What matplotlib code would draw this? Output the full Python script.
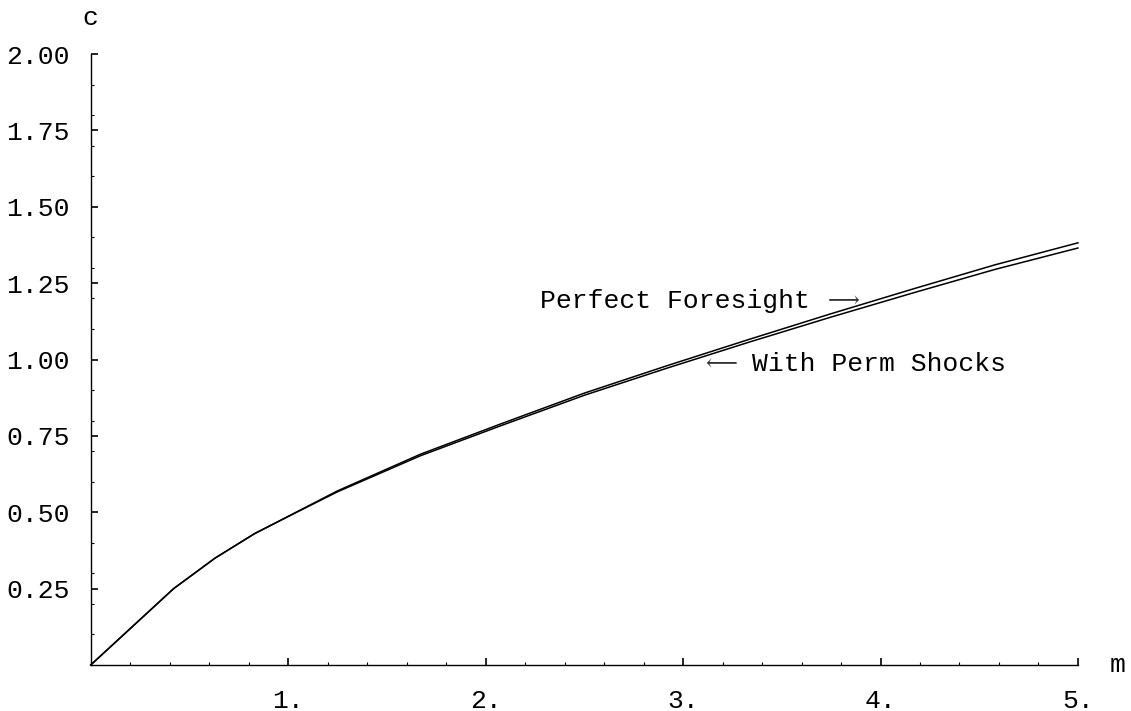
import matplotlib
matplotlib.use("Agg")
import matplotlib.pyplot as plt
import numpy as np

# consumption function points
m_vals = [0.0, 0.42, 0.63, 0.83, 1.04, 1.25, 1.67, 2.08, 2.50, 2.92, 3.33, 3.75, 4.17, 4.58, 5.00]
c_perfect = [0.0, 0.25, 0.35, 0.43, 0.50, 0.57, 0.69, 0.79, 0.89, 0.98, 1.065, 1.15, 1.232, 1.31, 1.382]
c_perm = [0.0, 0.25, 0.35, 0.43, 0.499, 0.567, 0.685, 0.784, 0.883, 0.972, 1.056, 1.139, 1.219, 1.295, 1.365]

x_ticks = [1, 2, 3, 4, 5]
x_labels = ["1.", "2.", "3.", "4.", "5."]
y_ticks = [0.25, 0.5, 0.75, 1.0, 1.25, 1.5, 1.75, 2.0]
y_labels = ["0.25", "0.50", "0.75", "1.00", "1.25", "1.50", "1.75", "2.00"]

mono = ["Liberation Mono", "DejaVu Sans Mono", "DejaVu Sans"]
fs = 19

fig = plt.figure(figsize=(11.31, 7.11), dpi=100)
ax = fig.add_axes([0.0802, 0.0647, 0.9531 - 0.0802, 0.924 - 0.0647])

ax.plot(m_vals, c_perfect, color="black", lw=1.1, clip_on=False)
ax.plot(m_vals, c_perm, color="black", lw=1.1, clip_on=False)

ax.set_xlim(0, 5)
ax.set_ylim(0, 2)
for s in ["top", "right"]:
    ax.spines[s].set_visible(False)
for s in ["left", "bottom"]:
    ax.spines[s].set_linewidth(1.0)

ax.set_xticks(x_ticks)
ax.set_xticklabels(x_labels, family=mono, fontsize=fs)
ax.set_yticks(y_ticks)
ax.set_yticklabels(y_labels, family=mono, fontsize=fs)
ax.set_xticks(np.arange(0.2, 5.0, 0.2), minor=True)
ax.set_yticks(np.arange(0.1, 2.0, 0.1), minor=True)
ax.tick_params(which="major", direction="in", length=5, width=1.2)
ax.tick_params(axis="x", which="major", pad=17)
ax.tick_params(axis="y", which="major", pad=15)
ax.tick_params(which="minor", direction="in", length=2.5, width=0.8)

ax.text(0.0, 2.08, "c", family=mono, fontsize=fs, ha="center", va="bottom")
ax.text(5.2, 0.0, "m", family=mono, fontsize=fs, ha="center", va="center")

arrow_font = ["DejaVu Serif", "DejaVu Sans"]
ax.text(2.275, 1.19, "Perfect Foresight", family=mono, fontsize=fs,
        ha="left", va="center")
ax.text(3.733, 1.19, "\u27f6", family=arrow_font, fontsize=16,
        ha="left", va="center", color="#333333")
ax.text(3.348, 0.985, "With Perm Shocks", family=mono, fontsize=fs,
        ha="left", va="center")
ax.text(3.11, 0.985, "\u27f5", family=arrow_font, fontsize=16,
        ha="left", va="center", color="#333333")

fig.savefig("out.png", dpi=100)
